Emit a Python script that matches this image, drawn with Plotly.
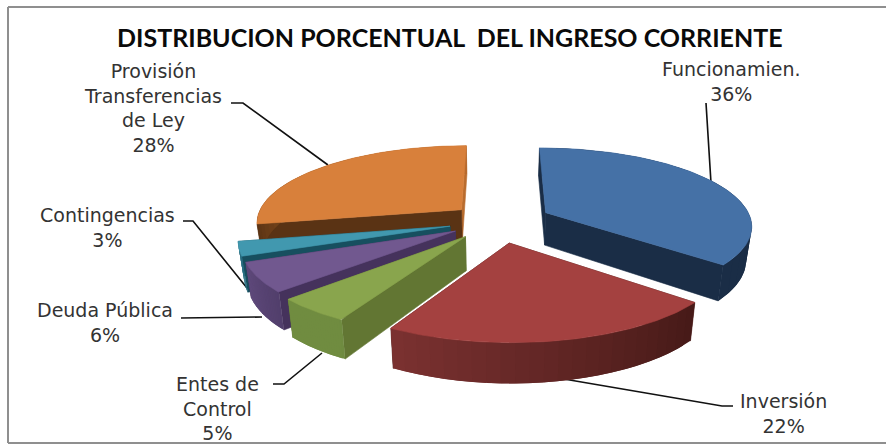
import numpy as np
import plotly.graph_objects as go

# ---- data ----
categories = ["Funcionamien.", "Inversión", "Entes de<br>Control", "Deuda Pública",
              "Contingencias", "Provisión<br>Transferencias<br>de Ley"]
shares = [36, 22, 5, 6, 3, 28]

# ---- style / projection ----
explode = [0.26, 0.28, 0.25, 0.24, 0.24, 0.235]
top_col = ["#4571a6", "#a44140", "#89a54d", "#71588f", "#4198af", "#d8803b"]
inner_col = ["#1a2d46", "#4a1a18", "#627633", "#45325c", "#174f5f", "#5a3314"]
end_col = ["#1a2d46", "#4a1a18", "#627633", "#45325c", "#174f5f", "#b96c2e"]
outer_from = ["#1a2d46", "#461a18", "#708c40", "#523f6c", "#2d7184", "#5a3314"]
outer_to = ["#1a2d46", "#7c3231", "#708c40", "#604a7c", "#2d7184", "#b96c2e"]
draw_order = [5, 4, 3, 2, 0, 1]
CX, CY, R, K, P, H, SHRINK = 498, 221, 206, 76.9, 0.152, 33, 0.978


def rgb(h):
    return np.array([int(h[i:i + 2], 16) for i in (1, 3, 5)], float)


def mix(a, b, t):
    c = rgb(a) * (1 - t) + rgb(b) * t
    return "rgb(%d,%d,%d)" % tuple(c)


def project(u, v):
    s = 1 / (1 + P * v)
    return CX + R * u * s, CY - K * v * s, s


def lower(x, y, s):
    return CX + (x - CX) * SHRINK, y + H * s


def poly(fig, xs, ys, color, width=0.6):
    fig.add_trace(go.Scatter(x=list(xs), y=list(ys), mode="lines", fill="toself",
                             fillcolor=color, line=dict(color=color, width=width),
                             hoverinfo="skip", showlegend=False))


fig = go.Figure()

# leader lines (label furniture, drawn under the pie)
leaders = [
    ([706, 711], [103, 183]),
    ([558, 722, 733], [378, 406, 406]),
    ([273, 284, 322], [384, 384, 353]),
    ([181, 262], [318, 317]),
    ([183, 193, 247], [221, 221, 288]),
    ([231, 243, 328], [103, 103, 165]),
]
for lx, ly in leaders:
    fig.add_trace(go.Scatter(x=lx, y=ly, mode="lines", line=dict(color="#111111", width=1.6),
                             hoverinfo="skip", showlegend=False))

fractions = np.array(shares, float) / sum(shares)
edges = np.concatenate([[0], np.cumsum(fractions)]) * 2 * np.pi

for i in draw_order:
    a, b = edges[i], edges[i + 1]
    mid = (a + b) / 2
    eu, ev = explode[i] * np.sin(mid), explode[i] * np.cos(mid)
    rim = lambda th: project(np.sin(th) + eu, np.cos(th) + ev)

    ox, oy, os_ = project(eu, ev)
    ox_b, oy_b = lower(ox, oy, os_)

    # radial walls
    for th, col in ((b, end_col[i]), (a, inner_col[i])):
        x, y, s = rim(th)
        xb, yb = lower(x, y, s)
        poly(fig, [ox, x, xb, ox_b, ox], [oy, y, yb, oy_b, oy], col)

    # outer curved wall, in strips for the shading
    steps = 24
    ts = np.linspace(a, b, steps + 1)
    for j in range(steps):
        # each strip overlaps the next one, so no seams show
        sub = np.linspace(ts[j], min(ts[j + 1] + (b - a) / steps, b), 6)
        x, y, s = rim(sub)
        xb, yb = lower(x, y, s)
        c = mix(outer_from[i], outer_to[i], (j + 0.5) / steps)
        poly(fig, np.concatenate([x, xb[::-1], x[:1]]), np.concatenate([y, yb[::-1], y[:1]]), c, 0)

    # top face
    sub = np.linspace(a, b, 80)
    x, y, _ = rim(sub)
    poly(fig, np.concatenate([[ox], x, [ox]]), np.concatenate([[oy], y, [oy]]), top_col[i])

LABEL = dict(family="DejaVu Sans", size=19, color="#333333")
label_pos = [(731, 81), (783, 413), (217, 408), (105, 322), (107, 227), (153, 108)]
for name, val, (lx, ly) in zip(categories, shares, label_pos):
    fig.add_annotation(x=lx, y=ly, xref="x", yref="y", text=f"{name}<br>{val}%", showarrow=False,
                       font=LABEL, align="center", xanchor="center", yanchor="middle")

fig.add_annotation(x=450, y=37, xref="x", yref="y", showarrow=False, xanchor="center", yanchor="middle",
                   text="<b>DISTRIBUCION PORCENTUAL  DEL INGRESO CORRIENTE</b>",
                   font=dict(family="Lato", size=25, color="#0a0a0a"))

# frame
for sx, sy in (([8, 8], [7, 443]), ([8, 886], [7, 7]), ([8, 886], [443, 443])):
    fig.add_trace(go.Scatter(x=sx, y=sy, mode="lines", line=dict(color="#8f8f8f", width=2),
                             hoverinfo="skip", showlegend=False))

fig.update_layout(
    width=886, height=446, margin=dict(l=0, r=0, t=0, b=0), showlegend=False,
    paper_bgcolor="white", plot_bgcolor="white",
    xaxis=dict(range=[0, 886], visible=False, fixedrange=True),
    yaxis=dict(range=[446, 0], visible=False, fixedrange=True),
)
fig.write_html("out.html", post_script="document.body.style.margin='0';document.body.style.overflow='hidden';",
               config={"displayModeBar": False})
